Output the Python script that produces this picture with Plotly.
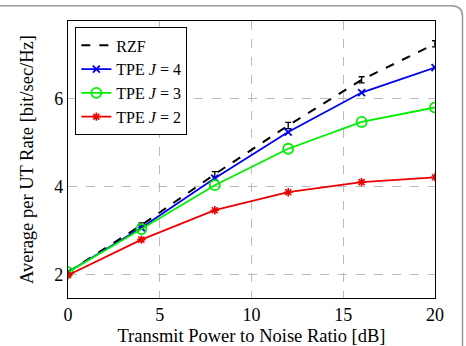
import plotly.graph_objects as go

snr_db = [0, 4, 8, 12, 16, 20]
rzf = [2.05, 3.12, 4.28, 5.39, 6.43, 7.25]
rzf_err = [0.03, 0.05, 0.06, 0.07, 0.07, 0.07]
tpe_j4 = [2.05, 3.06, 4.19, 5.24, 6.14, 6.71]
tpe_j3 = [2.05, 3.03, 4.03, 4.86, 5.47, 5.80]
tpe_j2 = [1.98, 2.79, 3.46, 3.87, 4.10, 4.21]
x_ticks = [0, 5, 10, 15, 20]
y_ticks = [2, 4, 6]

FONT = "Liberation Serif"

fig = go.Figure()
fig.add_trace(go.Scatter(
    x=snr_db, y=rzf, name="RZF", mode="lines",
    line=dict(color="black", width=2, dash="dash"),
    error_y=dict(type="data", array=rzf_err, visible=True, color="black", thickness=1.3, width=3),
))
fig.add_trace(go.Scatter(
    x=snr_db, y=tpe_j4, name="TPE <i>J</i> = 4", mode="lines+markers",
    line=dict(color="#0000ee", width=1.8),
    marker=dict(symbol="x-thin-open", size=7, color="#0000ee", line=dict(width=1.8, color="#0000ee")),
))
fig.add_trace(go.Scatter(
    x=snr_db, y=tpe_j3, name="TPE <i>J</i> = 3", mode="lines+markers",
    line=dict(color="#00ee00", width=1.8),
    marker=dict(symbol="circle-open", size=10, color="#00ee00", line=dict(width=1.8, color="#00ee00")),
))
fig.add_trace(go.Scatter(
    x=snr_db, y=tpe_j2, name="TPE <i>J</i> = 2", mode="lines+markers",
    line=dict(color="#ee0000", width=1.8),
    marker=dict(symbol="asterisk-open", size=7, color="#ee0000", line=dict(width=1.6, color="#ee0000")),
))

axis_common = dict(
    showline=True, linecolor="black", linewidth=1.2, mirror=True,
    showgrid=True, gridcolor="#bbbbbb", griddash="dash", gridwidth=1,
    zeroline=False, ticks="", automargin=False,
    tickfont=dict(family=FONT, size=18, color="black"),
)

fig.update_layout(
    width=466, height=346,
    margin=dict(l=68, r=31, t=21, b=48),
    paper_bgcolor="white", plot_bgcolor="white",
    font=dict(family=FONT, color="black"),
    showlegend=True,
    legend=dict(
        x=0.02, y=0.977, xanchor="left", yanchor="top",
        bgcolor="white", bordercolor="black", borderwidth=1,
        font=dict(family=FONT, size=16, color="black"),
        tracegroupgap=0, itemwidth=30,
    ),
    xaxis=dict(range=[0, 20], tickvals=x_ticks, ticktext=[str(v) for v in x_ticks],
               title=dict(text="Transmit Power to Noise Ratio [dB]", font=dict(family=FONT, size=18.5)),
               **axis_common),
    yaxis=dict(range=[1.46, 7.77], tickvals=y_ticks, ticktext=[str(v) for v in y_ticks],
               title=dict(text="Average per UT Rate [bit/sec/Hz]", font=dict(family=FONT, size=18.5)),
               **axis_common),
    shapes=[dict(
        type="path", xref="paper", yref="paper",
        path="M -0.2,1.055 L 1.045,1.055 Q 1.075,1.055 1.075,1.015 L 1.075,-0.2",
        line=dict(color="#999999", width=1.5),
    )],
)

fig.write_html("out.html")
